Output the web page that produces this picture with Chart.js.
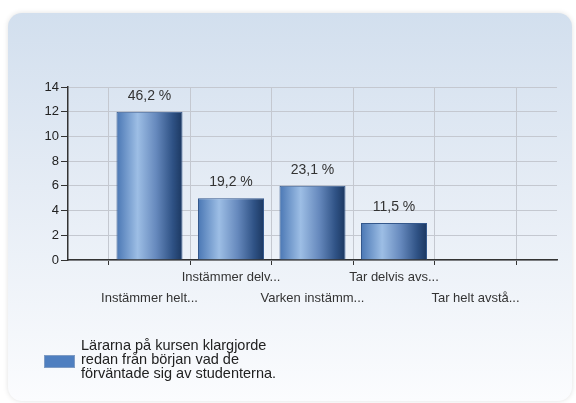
<!DOCTYPE html>
<html>
<head>
<meta charset="utf-8">
<script src="https://cdn.jsdelivr.net/npm/chart.js@4/dist/chart.umd.min.js"></script>
<style>
  html, body { margin: 0; padding: 0; background: #fff; }
  #chart { display: block; }
</style>
</head>
<body>
<canvas id="chart" width="576" height="403"></canvas>
<script>
// answer options (shortened as in the original)
const categories = ["Instämmer helt...", "Instämmer delv...", "Varken instämm...", "Tar delvis avs...", "Tar helt avstå..."];
// number of answers per option
const answers = [12, 5, 6, 3, 0];
const yTicks = [0, 2, 4, 6, 8, 10, 12, 14];
const seriesName = "Lärarna på kursen klargjorde redan från början vad de förväntade sig av studenterna.";
const legendLines = ["Lärarna på kursen klargjorde", "redan från början vad de", "förväntade sig av studenterna."];

const FONT = "'Liberation Sans', Arial, sans-serif";
const BAR_PCT = 0.81;

// empty slots at both ends, labels alternate between two rows
var labels = [""];
for (var i = 0; i < categories.length; i++) {
    labels.push(i % 2 === 0 ? ["", categories[i]] : [categories[i], ""]);
}
labels.push("");

var values = [null].concat(answers, [null]);
var total = answers.reduce(function (a, b) { return a + b; }, 0);

function barGradient(ctx) {
    var chart = ctx.chart;
    var xs = chart.scales && chart.scales.x;
    if (!xs || !chart.chartArea) return "#4f7cb8";
    var cx = xs.getPixelForValue(ctx.dataIndex);
    var step = xs.getPixelForValue(1) - xs.getPixelForValue(0);
    var half = step * BAR_PCT / 2;
    var g = chart.ctx.createLinearGradient(cx - half, 0, cx + half, 0);
    g.addColorStop(0, "#4a77b4");
    g.addColorStop(0.32, "#9dbee5");
    g.addColorStop(0.6, "#6689bd");
    g.addColorStop(0.85, "#2f5285");
    g.addColorStop(1, "#1b3760");
    return g;
}

var panelPlugin = {
    id: "panel",
    beforeDraw: function (chart) {
        var c = chart.ctx;
        c.save();
        c.fillStyle = "#ffffff";
        c.fillRect(0, 0, chart.width, chart.height);
        var x = 8, y = 13, w = 564, h = 388, r = 14;
        c.shadowColor = "rgba(0,0,0,0.12)";
        c.shadowBlur = 5;
        var g = c.createLinearGradient(0, y, 0, y + h);
        g.addColorStop(0, "#d2dfee");
        g.addColorStop(0.45, "#e5ecf5");
        g.addColorStop(1, "#fbfcfe");
        c.fillStyle = g;
        c.beginPath();
        c.roundRect(x, y, w, h, r);
        c.fill();
        c.restore();
    }
};

var labelPlugin = {
    id: "pctLabels",
    afterDatasetsDraw: function (chart) {
        var c = chart.ctx;
        var meta = chart.getDatasetMeta(0);
        c.save();
        c.font = "14px " + FONT;
        c.fillStyle = "#333333";
        c.textAlign = "center";
        c.textBaseline = "middle";
        meta.data.forEach(function (bar, i) {
            var v = values[i];
            if (!v) return;
            var pct = (v / total * 100).toFixed(1).replace(".", ",") + " %";
            c.fillText(pct, bar.x, bar.y - 16);
        });
        c.restore();
    }
};

var legendPlugin = {
    id: "legendBox",
    afterDraw: function (chart) {
        var c = chart.ctx;
        c.save();
        c.fillStyle = "#4f7fc0";
        c.fillRect(44, 355, 31, 13);
        c.strokeStyle = "#7f9cc4";
        c.lineWidth = 1;
        c.strokeRect(44.5, 355.5, 30, 12);
        c.font = "14.5px " + FONT;
        c.fillStyle = "#222222";
        c.textAlign = "left";
        c.textBaseline = "middle";
        legendLines.forEach(function (line, i) {
            c.fillText(line, 81, 346 + i * 14);
        });
        c.restore();
    }
};

new Chart(document.getElementById("chart"), {
    type: "bar",
    data: {
        labels: labels,
        datasets: [{
            label: seriesName,
            data: values,
            backgroundColor: barGradient,
            borderColor: "#34588c",
            borderWidth: function (ctx) { return values[ctx.dataIndex] ? 1 : 0; },
            categoryPercentage: 1,
            barPercentage: BAR_PCT
        }]
    },
    options: {
        responsive: false,
        animation: false,
        layout: { padding: { left: 28, right: 19, top: 87, bottom: 93 } },
        plugins: {
            legend: { display: false },
            tooltip: { enabled: false }
        },
        scales: {
            x: {
                offset: false,
                grid: { color: "#c4c8d0", tickColor: "#333333", tickLength: 5, lineWidth: 1 },
                border: { color: "#333333", width: 1.5 },
                ticks: {
                    autoSkip: false,
                    maxRotation: 0,
                    padding: 2,
                    color: "#333333",
                    font: { family: FONT, size: 13, lineHeight: 1.6 }
                },
                afterFit: function (s) { s.height = 50; }
            },
            y: {
                min: 0,
                max: 14,
                afterBuildTicks: function (s) { s.ticks = yTicks.map(function (v) { return { value: v }; }); },
                grid: { color: "#c4c8d0", tickColor: "#333333", tickLength: 7, lineWidth: 1 },
                border: { color: "#333333", width: 1.5 },
                ticks: {
                    padding: 2,
                    color: "#222222",
                    font: { family: FONT, size: 13 }
                },
                afterFit: function (s) { s.width = 40; }
            }
        }
    },
    plugins: [panelPlugin, labelPlugin, legendPlugin]
});
</script>
</body>
</html>
